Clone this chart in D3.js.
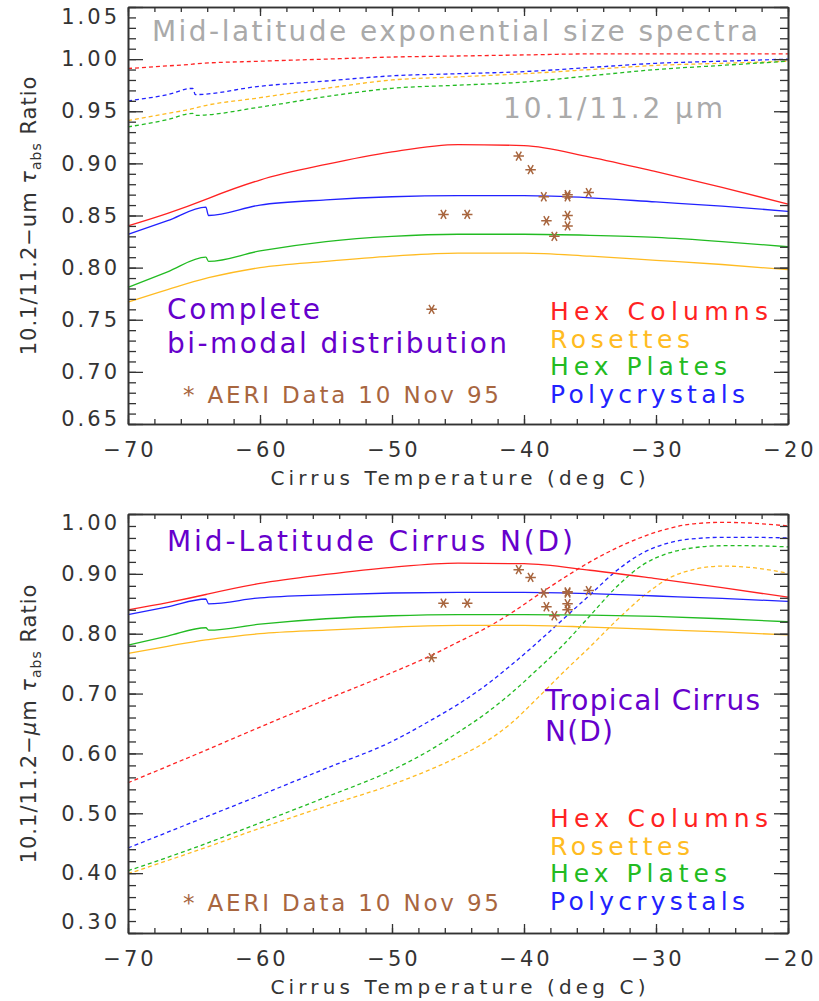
<!DOCTYPE html>
<html>
<head>
<meta charset="utf-8">
<script src="https://cdn.jsdelivr.net/npm/d3@7"></script>
<style>
body { margin: 0; background: #fff; }
text { font-family: "DejaVu Sans", sans-serif; }
</style>
</head>
<body>
<script>
"use strict";

// Mid-latitude N(D), complete bi-modal (solid lines, both panels)
var midTemps        = [-70, -67, -64.1, -63.9, -60, -55, -50, -45, -40, -35, -30, -25, -20];
var midHexColumns   = [0.840, 0.852, 0.8655, 0.8665, 0.884, 0.899, 0.911, 0.918, 0.917, 0.906, 0.892, 0.877, 0.861];
var midRosettes     = [0.767, 0.779, 0.7897, 0.7903, 0.800, 0.806, 0.811, 0.814, 0.814, 0.811, 0.807, 0.803, 0.798];
var midHexPlates    = [0.781, 0.796, 0.810, 0.806, 0.816, 0.825, 0.830, 0.832, 0.832, 0.831, 0.829, 0.825, 0.820];
var midPolycrystals = [0.832, 0.845, 0.858, 0.850, 0.860, 0.865, 0.868, 0.869, 0.869, 0.867, 0.863, 0.859, 0.854];

// Mid-latitude exponential size spectra (dashed, top panel)
var expTemps        = [-70, -67, -65.1, -64.9, -60, -55, -50, -45, -40, -35, -30, -25, -20];
var expHexColumns   = [0.991, 0.9935, 0.9952, 0.9955, 0.998, 1.000, 1.002, 1.003, 1.004, 1.005, 1.005, 1.005, 1.005];
var expRosettes     = [0.941, 0.948, 0.9525, 0.9532, 0.963, 0.972, 0.980, 0.983, 0.986, 0.990, 0.994, 0.996, 0.998];
var expHexPlates    = [0.935, 0.942, 0.948, 0.946, 0.954, 0.964, 0.972, 0.975, 0.978, 0.984, 0.990, 0.994, 0.998];
var expPolycrystals = [0.960, 0.966, 0.972, 0.966, 0.974, 0.979, 0.984, 0.986, 0.988, 0.992, 0.996, 0.998, 1.000];

// Tropical cirrus N(D) (dashed, bottom panel)
var tropTemps        = [-70, -65, -60, -55, -50, -47, -45, -43, -41, -39, -37, -35, -33, -31, -29, -27, -25, -23, -20];
var tropHexColumns   = [0.551, 0.597, 0.644, 0.690, 0.735, 0.764, 0.786, 0.808, 0.834, 0.864, 0.893, 0.920, 0.943, 0.962, 0.976, 0.984, 0.986, 0.985, 0.980];
var tropRosettes     = [0.399, 0.436, 0.475, 0.512, 0.548, 0.574, 0.594, 0.618, 0.650, 0.692, 0.736, 0.778, 0.822, 0.862, 0.893, 0.908, 0.913, 0.911, 0.901];
var tropHexPlates    = [0.404, 0.442, 0.484, 0.527, 0.572, 0.607, 0.635, 0.665, 0.700, 0.740, 0.782, 0.830, 0.878, 0.915, 0.935, 0.944, 0.947, 0.947, 0.945];
var tropPolycrystals = [0.442, 0.486, 0.530, 0.575, 0.620, 0.656, 0.682, 0.712, 0.747, 0.785, 0.825, 0.865, 0.905, 0.935, 0.952, 0.959, 0.961, 0.961, 0.960];

// AERI observations, 10 Nov 95
var aeriTemps  = [-40.4, -39.5, -38.5, -36.7, -36.7, -35.1, -46.1, -44.3, -38.3, -36.7, -36.7, -37.7, -47.0];
var aeriRatios = [0.907, 0.894, 0.868, 0.870, 0.868, 0.872, 0.851, 0.851, 0.845, 0.850, 0.840, 0.830, 0.760];

var habits = ["Hex Columns", "Rosettes", "Hex Plates", "Polycrystals"];
var habitColors = ["#ff2222", "#ffbb22", "#22bb22", "#2222ff"];
var xTicks = [-70, -60, -50, -40, -30, -20];

var purple = "#6600cc", brown = "#a8663f", axisColor = "#333";

var svg = d3.select("body").append("svg")
    .attr("width", 819)
    .attr("height", 1001);

svg.append("rect").attr("width", 819).attr("height", 1001).attr("fill", "#fff");

// six armed asterisk like the IDL psym=2
var asterisk = {
  draw: function(ctx, size) {
    var r = Math.sqrt(size) / 2;
    for (var i = 0; i < 3; i++) {
      var a = i * Math.PI / 3;
      ctx.moveTo(-r * Math.cos(a), -r * Math.sin(a));
      ctx.lineTo(r * Math.cos(a), r * Math.sin(a));
    }
  }
};

function steps(lo, hi, step) {
  var n = Math.round((hi - lo) / step);
  return d3.range(n + 1).map(function(i) { return +(lo + i * step).toFixed(4); });
}

function drawPanel(p) {
  var width = 660, height = p.bottom - p.top;
  var g = svg.append("g").attr("transform", "translate(128," + p.top + ")");

  var x = d3.scaleLinear().domain([-70, -20]).range([0, width]);
  var y = d3.scaleLinear().domain(p.yDomain).range([height, 0]);

  var line = d3.line()
      .x(function(d) { return x(d[0]); })
      .y(function(d) { return y(d[1]); })
      .curve(d3.curveMonotoneX);

  // curves
  p.series.forEach(function(s) {
    g.append("path")
        .datum(d3.zip(s.temps, s.values))
        .attr("fill", "none")
        .attr("stroke", s.color)
        .attr("stroke-width", 1.3)
        .attr("stroke-dasharray", s.dashed ? "4,3" : null)
        .attr("d", line);
  });

  // AERI stars
  g.selectAll(".star")
      .data(d3.zip(aeriTemps, aeriRatios))
      .enter().append("path")
      .attr("transform", function(d) { return "translate(" + x(d[0]) + "," + y(d[1]) + ")"; })
      .attr("d", d3.symbol().type(asterisk).size(110))
      .attr("stroke", brown)
      .attr("stroke-width", 1.5)
      .attr("fill", "none");

  // axes: major and minor ticks on all four sides, pointing inward
  var yMajor = steps(p.yDomain[0], p.yDomain[1], p.yMajor);
  var yMinor = steps(p.yDomain[0], p.yDomain[1], p.yMinor);
  var xMinor = steps(-70, -20, 2);

  var axes = [
    g.append("g").attr("transform", "translate(0," + height + ")")
      .call(d3.axisBottom(x).tickValues(xTicks).tickSize(-9).tickSizeOuter(0).tickPadding(18)),
    g.append("g").attr("transform", "translate(0," + height + ")")
      .call(d3.axisBottom(x).tickValues(xMinor).tickSize(-5).tickSizeOuter(0).tickFormat("")),
    g.append("g")
      .call(d3.axisTop(x).tickValues(xTicks).tickSize(-9).tickSizeOuter(0).tickFormat("")),
    g.append("g")
      .call(d3.axisTop(x).tickValues(xMinor).tickSize(-5).tickSizeOuter(0).tickFormat("")),
    g.append("g")
      .call(d3.axisLeft(y).tickValues(yMajor).tickSize(-15).tickSizeOuter(0).tickPadding(8)
        .tickFormat(d3.format(".2f"))),
    g.append("g")
      .call(d3.axisLeft(y).tickValues(yMinor).tickSize(-8).tickSizeOuter(0).tickFormat("")),
    g.append("g").attr("transform", "translate(" + width + ",0)")
      .call(d3.axisRight(y).tickValues(yMajor).tickSize(-14).tickSizeOuter(0).tickFormat("")),
    g.append("g").attr("transform", "translate(" + width + ",0)")
      .call(d3.axisRight(y).tickValues(yMinor).tickSize(-8).tickSizeOuter(0).tickFormat(""))
  ];
  axes.forEach(function(a) {
    a.select(".domain").attr("stroke", axisColor).attr("stroke-width", 1.6);
    a.selectAll(".tick line").attr("stroke", axisColor).attr("stroke-width", 1.3);
    a.selectAll(".tick text")
        .attr("fill", axisColor)
        .style("font-size", "21px")
        .style("letter-spacing", "3px");
  });
  // letter-spacing leaves a gap after the last glyph, pull x labels back to centre
  axes[0].selectAll(".tick text").attr("dx", 1.5);

  // IDL nudges the end labels inside the frame
  var yLabels = axes[4].selectAll(".tick text");
  yLabels.filter(function(d, i) { return i === 0; }).attr("y", p.lowShift);
  yLabels.filter(function(d, i, n) { return i === n.length - 1; }).attr("y", p.highShift);

  // x title
  g.append("text")
      .attr("x", width / 2)
      .attr("y", height + 61)
      .attr("text-anchor", "middle")
      .attr("fill", axisColor)
      .style("font-size", "20px")
      .attr("textLength", 375)
      .attr("lengthAdjust", "spacing")
      .text("Cirrus Temperature (deg C)");

  // y title
  var yt = g.append("text")
      .attr("transform", "translate(-92," + (height / 2) + ") rotate(-90)")
      .attr("text-anchor", "middle")
      .attr("fill", axisColor)
      .style("font-size", "21px")
      .style("letter-spacing", "1px");
  yt.append("tspan").text("10.1/11.2\u2212");
  if (p.greekMu) {
    yt.append("tspan").style("font-style", "italic").text("\u03bc");
    yt.append("tspan").text("m ");
  } else {
    yt.append("tspan").text("um ");
  }
  yt.append("tspan").style("font-style", "italic").text("\u03c4");
  yt.append("tspan").attr("dy", 5).style("font-size", "14px").text("abs");
  yt.append("tspan").attr("dy", -5).text(" Ratio");

  // legend
  habits.forEach(function(h, i) {
    svg.append("text")
        .attr("x", 550)
        .attr("y", p.legendY + i * 27.5)
        .attr("fill", habitColors[i])
        .style("font-size", "25px")
        .attr("textLength", [218, 140, 177, 195][i])
        .attr("lengthAdjust", "spacing")
        .text(h);
  });

  svg.append("text")
      .attr("x", 183)
      .attr("y", p.aeriY)
      .attr("fill", brown)
      .style("font-size", "23px")
      .attr("textLength", 316)
      .attr("lengthAdjust", "spacing")
      .text("* AERI Data 10 Nov 95");

  // annotations
  p.notes.forEach(function(n) {
    svg.append("text")
        .attr("x", n.x)
        .attr("y", n.y)
        .attr("fill", n.color)
        .style("font-size", n.size + "px")
        .attr("textLength", n.len)
        .attr("lengthAdjust", "spacing")
        .text(n.text);
  });
}

function mk(temps, values, i, dashed) {
  return {temps: temps, values: values, color: habitColors[i], dashed: dashed};
}

drawPanel({
  top: 7, bottom: 424,
  yDomain: [0.65, 1.05], yMajor: 0.05, yMinor: 0.01,
  lowShift: -5, highShift: 10,
  greekMu: false,
  legendY: 320, aeriY: 403,
  series: [
    mk(expTemps, expHexColumns, 0, true),
    mk(expTemps, expRosettes, 1, true),
    mk(expTemps, expHexPlates, 2, true),
    mk(expTemps, expPolycrystals, 3, true),
    mk(midTemps, midHexColumns, 0, false),
    mk(midTemps, midRosettes, 1, false),
    mk(midTemps, midHexPlates, 2, false),
    mk(midTemps, midPolycrystals, 3, false)
  ],
  notes: [
    {text: "Mid-latitude exponential size spectra", x: 152, y: 41, size: 28, len: 606, color: "#aaaaaa"},
    {text: "10.1/11.2 \u03bcm", x: 503, y: 118, size: 28, len: 220, color: "#aaaaaa"},
    {text: "Complete", x: 167, y: 319, size: 28, len: 153, color: purple},
    {text: "bi-modal distribution", x: 167, y: 353, size: 28, len: 340, color: purple}
  ]
});

drawPanel({
  top: 514, bottom: 933,
  yDomain: [0.30, 1.00], yMajor: 0.10, yMinor: 0.02,
  lowShift: -11, highShift: 9,
  greekMu: true,
  legendY: 827, aeriY: 911,
  series: [
    mk(tropTemps, tropHexColumns, 0, true),
    mk(tropTemps, tropRosettes, 1, true),
    mk(tropTemps, tropHexPlates, 2, true),
    mk(tropTemps, tropPolycrystals, 3, true),
    mk(midTemps, midHexColumns, 0, false),
    mk(midTemps, midRosettes, 1, false),
    mk(midTemps, midHexPlates, 2, false),
    mk(midTemps, midPolycrystals, 3, false)
  ],
  notes: [
    {text: "Mid-Latitude Cirrus N(D)", x: 167, y: 551, size: 28, len: 406, color: purple},
    {text: "Tropical Cirrus", x: 545, y: 710, size: 28, len: 215, color: purple},
    {text: "N(D)", x: 545, y: 741, size: 28, len: 68, color: purple}
  ]
});
</script>
</body>
</html>
